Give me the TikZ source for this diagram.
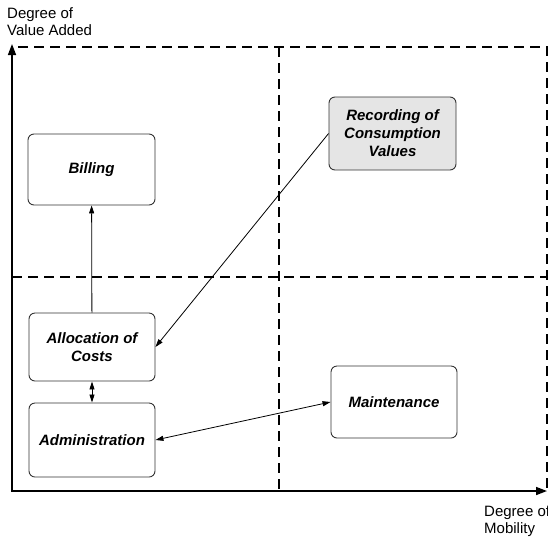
\documentclass[tikz,border=0pt]{standalone}
\usepackage{fontspec}
\setmainfont{Liberation Sans}
\usetikzlibrary{arrows.meta}
\begin{document}
\begin{tikzpicture}[x=1pt,y=-1pt,
  box/.style={draw=black!80, line width=0.9pt, rounded corners=6pt,
    align=center, inner sep=0pt,
    font=\fontsize{15}{18}\selectfont\bfseries\itshape},
  shaded/.style={box, fill=black!10},
  quadrant/.style={line width=2pt, dash pattern=on 10pt off 6pt},
  axis/.style={line width=1.5pt, -{Triangle[length=11pt,width=8pt]}},
  link/.style={line width=0.8pt, -{Triangle[length=8pt,width=5pt]}},
  biglink/.style={line width=0.8pt, {Triangle[length=8pt,width=5pt]}-{Triangle[length=8pt,width=5pt]}},
  axislabel/.style={anchor=north west, inner sep=0pt, align=left,
    font=\fontsize{15}{17}\selectfont}
]
\useasboundingbox (0,0) rectangle (548,539);

% quadrant grid
\coordinate (tl) at (18,47);
\coordinate (tm) at (279,47);
\coordinate (tr) at (547,47);
\coordinate (ml) at (12,277);
\coordinate (mr) at (547,277);
\coordinate (bm) at (279,491);
\coordinate (br) at (547,491);
\draw[quadrant] (tl) -- (tr) -- (br);
\draw[quadrant] (tm) -- (bm);
\draw[quadrant] (ml) -- (mr);

% axes
\coordinate (origin) at (12,491);
\coordinate (ytip) at (12,44);
\coordinate (xtip) at (547,491);
\draw[axis] ([yshift=-0.75pt]origin) -- (ytip);
\draw[axis] ([xshift=-0.75pt]origin) -- (xtip);

% axis labels
\node[axislabel] (ylabel) at (7,7) {Degree of\\Value Added};
\node[axislabel] (xlabel) at (484,505) {Degree of\\Mobility};

% activities
\node[box, minimum width=127pt, minimum height=71pt] (billing) at (91.5,169.5) {Billing};
\node[shaded, minimum width=127pt, minimum height=73pt] (recording) at (392.5,133.5) {Recording of\\Consumption\\Values};
\node[box, minimum width=126pt, minimum height=68pt] (allocation) at (92,347) {Allocation of\\Costs};
\node[box, minimum width=126pt, minimum height=74pt] (admin) at (92,440) {Administration};
\node[box, minimum width=126pt, minimum height=72pt] (maint) at (394,402) {Maintenance};

% relations
\draw[link] (allocation) -- (billing);
\draw[biglink] (allocation) -- (admin);
\draw[link] (recording.west) -- (allocation.east);
\draw[biglink] (admin.east) -- (maint.west);
\end{tikzpicture}
\end{document}
